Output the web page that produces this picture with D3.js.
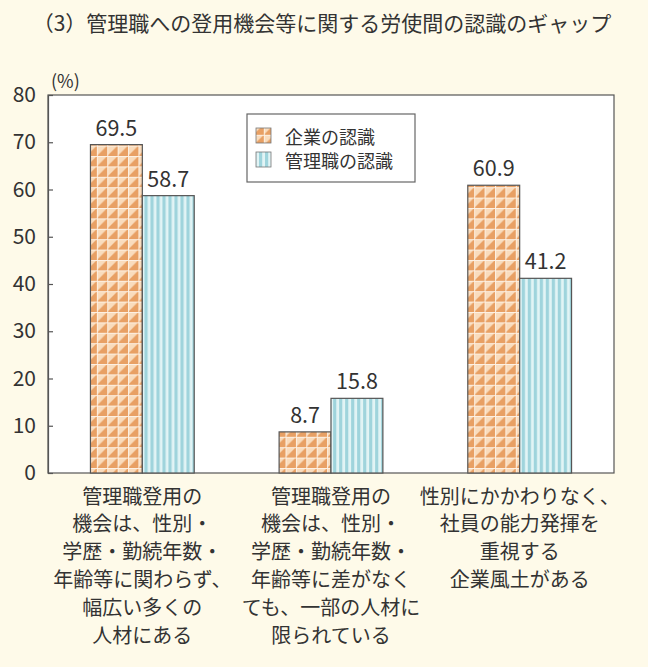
<!DOCTYPE html>
<html><head><meta charset="utf-8">
<script src="https://cdn.jsdelivr.net/npm/d3@7"></script>
<style>
html,body{margin:0;padding:0;background:#fefae9;}
svg{display:block;}
text{font-family:"Noto Sans CJK JP","Noto Sans",sans-serif;fill:#333;}
</style></head>
<body>
<script>
const title = "（3）管理職への登用機会等に関する労使間の認識のギャップ";
const unitLabel = "(%)";
const categories = [
  ["管理職登用の","機会は、性別・","学歴・勤続年数・","年齢等に関わらず、","幅広い多くの","人材にある"],
  ["管理職登用の","機会は、性別・","学歴・勤続年数・","年齢等に差がなく","ても、一部の人材に","限られている"],
  ["性別にかかわりなく、","社員の能力発揮を","重視する","企業風土がある"]
];
const seriesNames = ["企業の認識","管理職の認識"];
const companyValues = [69.5, 8.7, 60.9];
const managerValues = [58.7, 15.8, 41.2];
const yTicks = [0,10,20,30,40,50,60,70,80];

const W = 648, H = 667;
const plot = {left:48, right:614, top:95, bottom:473};

const svg = d3.select("body").append("svg").attr("width",W).attr("height",H);
svg.append("rect").attr("width",W).attr("height",H).attr("fill","#fefae9");

const defs = svg.append("defs");
const p1 = defs.append("pattern").attr("id","pTri").attr("patternUnits","userSpaceOnUse")
  .attr("width",10.4).attr("height",10.4).attr("x",plot.left).attr("y",0);
p1.append("rect").attr("width",10.4).attr("height",10.4).attr("fill","#f9dcbd");
p1.append("path").attr("d","M10.4,0 L10.4,10.4 L0,10.4 Z").attr("fill","#e8a064");
p1.append("path").attr("d","M0,0.5 H10.4 M0.5,0 V10.4").attr("stroke","#fdf1e4").attr("stroke-width",1);
const p2 = defs.append("pattern").attr("id","pStr").attr("patternUnits","userSpaceOnUse")
  .attr("width",6).attr("height",10).attr("x",0).attr("y",0);
p2.append("rect").attr("width",6).attr("height",10).attr("fill","#e2f4f5");
p2.append("rect").attr("x",0).attr("width",3.2).attr("height",10).attr("fill","#9fd4dc");

const fills = ["url(#pTri)","url(#pStr)"];

svg.append("rect").attr("x",plot.left).attr("y",plot.top)
  .attr("width",plot.right-plot.left).attr("height",plot.bottom-plot.top)
  .attr("fill","#ffffff").attr("stroke","#555").attr("stroke-width",1.2);

const y = d3.scaleLinear().domain([0,80]).range([plot.bottom, plot.top]);
const x0 = d3.scaleBand().domain(d3.range(categories.length))
  .range([plot.left, plot.right]).paddingInner(0.45).paddingOuter(0.225);
const x1 = d3.scaleBand().domain([0,1]).range([0, x0.bandwidth()]);

const yAxis = d3.axisLeft(y).tickValues(yTicks).tickSizeInner(-5).tickSizeOuter(0).tickPadding(12);
const gy = svg.append("g").attr("transform",`translate(${plot.left},0)`).call(yAxis);
gy.select(".domain").attr("stroke","#555").attr("stroke-width",1.2);
gy.selectAll(".tick line").attr("stroke","#555").attr("stroke-width",1.2);
gy.selectAll(".tick text").style("font-size","21px").style("font-family","'Noto Sans CJK JP',sans-serif").attr("fill","#333");

const data = categories.map((c,i)=>({i, vals:[companyValues[i], managerValues[i]]}));
const groups = svg.append("g").selectAll("g").data(data).join("g")
  .attr("transform",d=>`translate(${x0(d.i)},0)`);
groups.selectAll("rect").data(d=>d.vals.map((v,s)=>({v,s}))).join("rect")
  .attr("x",d=>x1(d.s)).attr("width",x1.bandwidth())
  .attr("y",d=>y(d.v)).attr("height",d=>y(0)-y(d.v))
  .attr("fill",d=>fills[d.s]).attr("stroke","#555").attr("stroke-width",1.2);
groups.selectAll("text.val").data(d=>d.vals.map((v,s)=>({v,s}))).join("text")
  .attr("class","val")
  .attr("x",d=>x1(d.s)+x1.bandwidth()/2).attr("y",d=>y(d.v)-9)
  .attr("text-anchor","middle").style("font-size","21.5px")
  .text(d=>d.v.toFixed(1));

const lineH = 27.8;
svg.append("g").selectAll("text").data(categories.map((c,i)=>({c,i}))).join("text")
  .attr("x",d=>x0(d.i)+x0.bandwidth()/2).attr("y",495)
  .attr("text-anchor","middle").style("font-size","20px")
  .each(function(d){
    d3.select(this).selectAll("tspan").data(d.c).join("tspan")
      .attr("x",x0(d.i)+x0.bandwidth()/2)
      .attr("y",(t,k)=>495+k*lineH)
      .attr("dominant-baseline","central")
      .text(t=>t);
  });

svg.append("text").attr("x",322).attr("y",22).attr("text-anchor","middle")
  .attr("dominant-baseline","central").style("font-size","21px").text(title);
svg.append("text").attr("x",51).attr("y",80).attr("dominant-baseline","central")
  .style("font-size","18px").text(unitLabel);

const lg = svg.append("g").attr("transform","translate(247,114)");
lg.append("rect").attr("width",168).attr("height",68).attr("fill","#fff").attr("stroke","#666").attr("stroke-width",1.2);
seriesNames.forEach((n,i)=>{
  lg.append("rect").attr("x",9).attr("y",14+i*24).attr("width",15).attr("height",15)
    .attr("fill",fills[i]).attr("stroke","#777").attr("stroke-width",0.8);
  lg.append("text").attr("x",38).attr("y",21.5+i*24).attr("dominant-baseline","central")
    .style("font-size","18px").text(n);
});
</script>
</body></html>
